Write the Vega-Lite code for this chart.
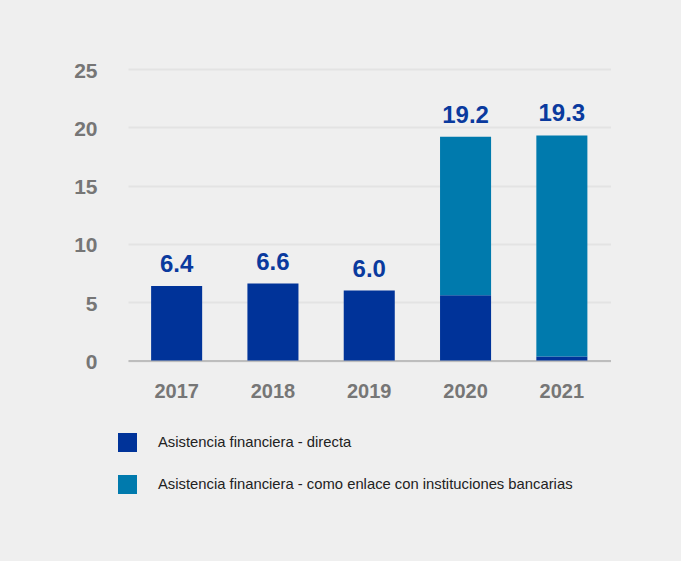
{
  "$schema": "https://vega.github.io/schema/vega-lite/v6.json",
  "autosize": "none",
  "width": 482.5,
  "height": 291.5,
  "padding": {"left": 128, "top": 69, "right": 70.5, "bottom": 200.5},
  "background": "#efefef",
  "config": {
    "view": {"stroke": null},
    "font": "Liberation Sans, Arial, sans-serif"
  },
  "data": {
    "values": [
      {"year": "2017", "serie": "Asistencia financiera - directa", "value": 6.4, "order": 1},
      {"year": "2018", "serie": "Asistencia financiera - directa", "value": 6.6, "order": 1},
      {"year": "2019", "serie": "Asistencia financiera - directa", "value": 6.0, "order": 1},
      {"year": "2020", "serie": "Asistencia financiera - directa", "value": 5.6, "order": 1},
      {"year": "2020", "serie": "Asistencia financiera - como enlace con instituciones bancarias", "value": 13.6, "order": 2},
      {"year": "2021", "serie": "Asistencia financiera - directa", "value": 0.35, "order": 1},
      {"year": "2021", "serie": "Asistencia financiera - como enlace con instituciones bancarias", "value": 18.95, "order": 2}
    ]
  },
  "encoding": {
    "x": {
      "field": "year", "type": "nominal", "title": null,
      "scale": {"paddingInner": 0.47, "paddingOuter": 0.24},
      "axis": {
        "labelAngle": 0, "labelFontSize": 20, "labelFontWeight": "bold", "labelColor": "#767676",
        "labelPadding": 21, "ticks": false, "domainColor": "#bdbdbd", "domainWidth": 2
      }
    }
  },
  "layer": [
    {
      "mark": {"type": "bar"},
      "encoding": {
        "y": {
          "field": "value", "type": "quantitative", "stack": "zero", "title": null,
          "scale": {"domain": [0, 25], "nice": false},
          "axis": {
            "values": [0, 5, 10, 15, 20, 25], "labelFontSize": 21, "labelFontWeight": "bold",
            "labelColor": "#767676", "labelPadding": 31, "labelOffset": 2, "domain": false, "ticks": false,
            "gridColor": "#e3e3e3", "gridWidth": 2
          }
        },
        "color": {
          "field": "serie", "type": "nominal",
          "scale": {
            "domain": ["Asistencia financiera - directa", "Asistencia financiera - como enlace con instituciones bancarias"],
            "range": ["#003399", "#007aad"]
          },
          "legend": {
            "title": null, "orient": "none", "legendX": -10, "legendY": 364,
            "symbolType": "square", "symbolSize": 361, "symbolStrokeWidth": 0, "symbolOpacity": 1,
            "labelFontSize": 14.8, "labelColor": "#222222", "labelOffset": 21, "rowPadding": 23,
            "padding": 0, "labelLimit": 600
          }
        },
        "order": {"field": "order", "type": "quantitative"}
      }
    },
    {
      "mark": {"type": "text", "baseline": "bottom", "dy": -9, "fontSize": 24, "fontWeight": "bold", "color": "#0a3a9e"},
      "encoding": {
        "y": {"aggregate": "sum", "field": "value", "type": "quantitative"},
        "text": {"aggregate": "sum", "field": "value", "type": "quantitative", "format": ".1f"}
      }
    }
  ]
}
